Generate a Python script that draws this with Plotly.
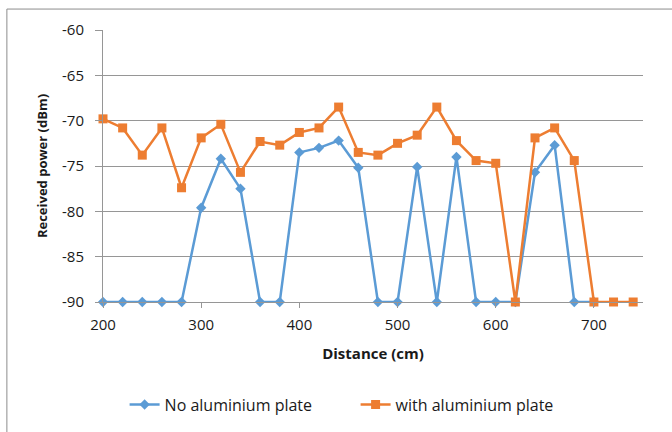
import plotly.graph_objects as go

# Distance in cm and received power in dBm for both setups
distance_no_plate = [200, 220, 240, 260, 280, 300, 320, 340, 360, 380, 400, 420, 440,
                     460, 480, 500, 520, 540, 560, 580, 600, 620, 640, 660, 680, 700]
power_no_plate = [-90, -90, -90, -90, -90, -79.6, -74.2, -77.5, -90, -90, -73.5, -73.0, -72.2,
                  -75.2, -90, -90, -75.1, -90, -74.0, -90, -90, -90, -75.7, -72.7, -90, -90]

distance_plate = [200, 220, 240, 260, 280, 300, 320, 340, 360, 380, 400, 420, 440, 460,
                  480, 500, 520, 540, 560, 580, 600, 620, 640, 660, 680, 700, 720, 740]
power_plate = [-69.8, -70.8, -73.8, -70.8, -77.4, -71.9, -70.4, -75.7, -72.3, -72.7, -71.3,
               -70.8, -68.5, -73.5, -73.8, -72.5, -71.6, -68.5, -72.2, -74.4, -74.7, -90,
               -71.9, -70.8, -74.4, -90, -90, -90]

x_ticks = [200, 300, 400, 500, 600, 700]
y_ticks = [-60, -65, -70, -75, -80, -85, -90]
y_tick_labels = ["-60", "-65", "-70", "-75", "-80", "-85", "-90"]

BLUE = "#5B9BD5"
ORANGE = "#ED7D31"
GRID = "#969696"
FONT = "Open Sans"

fig = go.Figure()
fig.add_trace(go.Scatter(
    x=distance_no_plate, y=power_no_plate, mode="lines+markers",
    name="No aluminium plate", cliponaxis=False,
    line=dict(color=BLUE, width=2.5),
    marker=dict(symbol="diamond", size=8, color=BLUE),
))
fig.add_trace(go.Scatter(
    x=distance_plate, y=power_plate, mode="lines+markers",
    name="with aluminium plate", cliponaxis=False,
    line=dict(color=ORANGE, width=2.5),
    marker=dict(symbol="square", size=9, color=ORANGE),
))

fig.update_layout(
    width=672, height=432,
    margin=dict(l=103, r=29, t=30, b=129),
    paper_bgcolor="white", plot_bgcolor="white",
    font=dict(family=FONT, size=15, color="#1a1a1a"),
    showlegend=True,
    legend=dict(orientation="h", x=0.04, xanchor="left", y=-0.31, yanchor="top",
                font=dict(size=16), itemwidth=30, traceorder="normal",
                entrywidth=186, entrywidthmode="pixels"),
    xaxis=dict(
        range=[200, 750], tickvals=x_ticks, showgrid=False, zeroline=False,
        showline=True, linecolor=GRID, linewidth=1,
        ticks="outside", ticklen=5, tickcolor=GRID, ticklabelstandoff=4,
        tickfont=dict(size=15),
        title=dict(text="<b>Distance (cm)</b>", font=dict(size=15), standoff=15),
    ),
    yaxis=dict(
        range=[-90, -60], tickvals=y_ticks, ticktext=y_tick_labels,
        showgrid=True, gridcolor=GRID, gridwidth=1, zeroline=False,
        showline=True, linecolor=GRID,
        ticks="outside", ticklen=7, tickcolor=GRID, ticklabelstandoff=8,
        tickfont=dict(size=15),
        title=dict(text="<b>Received power (dBm)</b>", font=dict(size=13), standoff=11),
    ),
    shapes=[dict(type="rect", xref="paper", yref="paper",
                 x0=-0.178, x1=1.2, y0=-0.6, y1=1.077,
                 line=dict(color="#8c8c8c", width=1), layer="below")],
)

fig.write_html("out.html")
